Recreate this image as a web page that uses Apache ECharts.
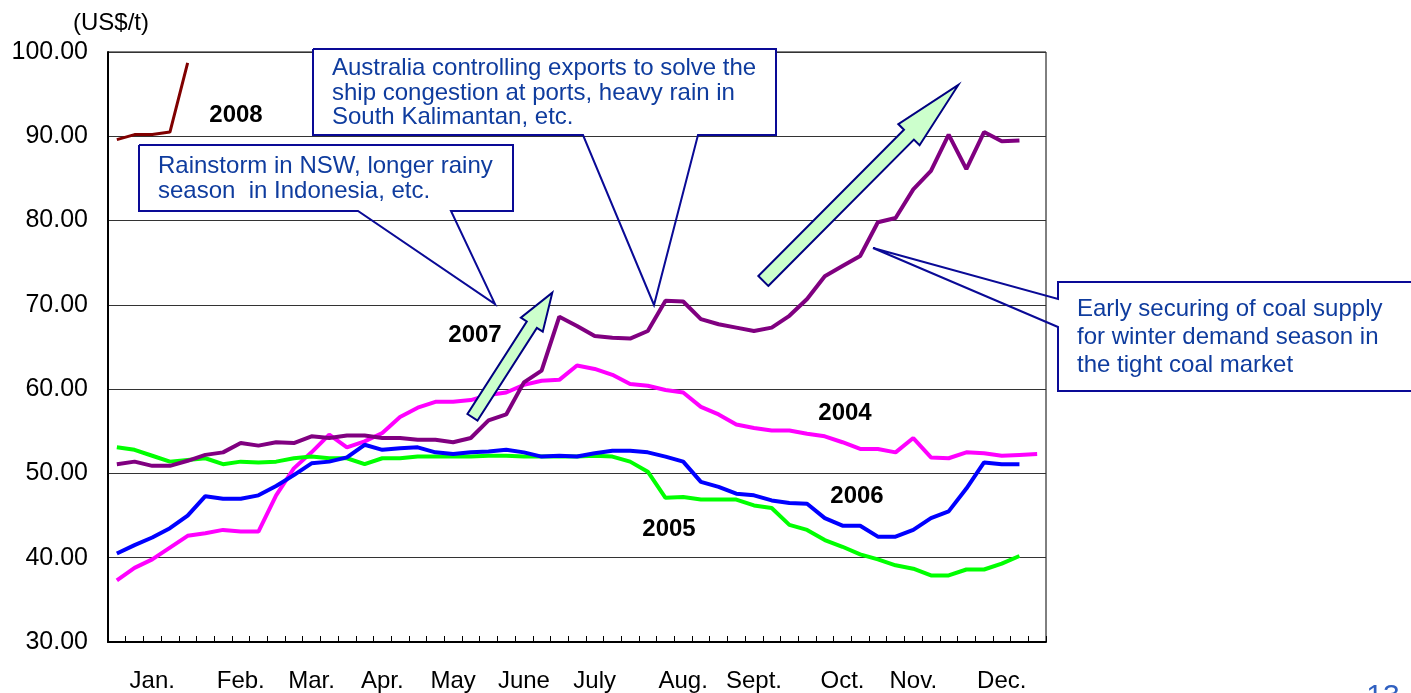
<!DOCTYPE html>
<html>
<head>
<meta charset="utf-8">
<title>Coal price</title>
<script src="https://cdn.jsdelivr.net/npm/echarts@6/dist/echarts.min.js"></script>
<style>
    html, body { margin: 0; padding: 0; background: #fff; }
    #main { width: 1411px; height: 693px; }
</style>
</head>
<body>
<div id="main"></div>
<script>
// 月份标签（放在对应的周上）
var monthNames = ['Jan.', 'Feb.', 'Mar.', 'Apr.', 'May', 'June', 'July', 'Aug.', 'Sept.', 'Oct.', 'Nov.', 'Dec.'];
var monthWeeks = [2, 7, 11, 15, 19, 23, 27, 32, 36, 41, 45, 50];
var weekCount = 53;

// 各年每周价格 (US$/t)
var price2004 = [37.3, 38.8, 39.8, 41.2, 42.6, 42.9, 43.3, 43.1, 43.1, 47.4, 50.6, 52.5, 54.6, 53.1, 53.8, 54.8, 56.7, 57.8, 58.5, 58.5,
    58.7, 59.3, 59.6, 60.5, 61.0, 61.1, 62.8, 62.4, 61.7, 60.6, 60.4, 59.9, 59.6, 57.9, 57.0, 55.8, 55.4, 55.1, 55.1, 54.7,
    54.4, 53.7, 52.9, 52.9, 52.5, 54.2, 51.9, 51.8, 52.5, 52.4, 52.1, 52.2, 52.3];
var price2005 = [53.1, 52.8, 52.1, 51.4, 51.6, 51.8, 51.1, 51.4, 51.3, 51.4, 51.8, 52.0, 51.8, 51.8, 51.1, 51.8, 51.8, 52.0, 52.0, 52.0,
    52.0, 52.1, 52.1, 52.0, 52.0, 52.0, 52.0, 52.1, 52.0, 51.4, 50.2, 47.1, 47.2, 46.9, 46.9, 46.9, 46.2, 45.9, 43.9, 43.3,
    42.1, 41.3, 40.4, 39.8, 39.1, 38.7, 37.9, 37.9, 38.6, 38.6, 39.3, 40.2];
var price2006 = [40.5, 41.5, 42.4, 43.5, 45.0, 47.3, 47.0, 47.0, 47.4, 48.5, 49.8, 51.2, 51.4, 51.9, 53.4, 52.8, 53.0, 53.1, 52.5, 52.3,
    52.5, 52.6, 52.8, 52.5, 52.0, 52.1, 52.0, 52.4, 52.7, 52.7, 52.5, 52.0, 51.4, 49.0, 48.4, 47.6, 47.4, 46.8, 46.5, 46.4,
    44.7, 43.8, 43.8, 42.5, 42.5, 43.3, 44.7, 45.5, 48.2, 51.3, 51.1, 51.1];
var price2007 = [51.1, 51.4, 50.9, 50.9, 51.5, 52.2, 52.5, 53.6, 53.3, 53.7, 53.6, 54.4, 54.2, 54.5, 54.5, 54.2, 54.2, 54.0, 54.0, 53.7,
    54.2, 56.3, 57.0, 60.8, 62.2, 68.6, 67.5, 66.3, 66.1, 66.0, 66.9, 70.5, 70.4, 68.3, 67.7, 67.3, 66.9, 67.3, 68.7, 70.7,
    73.4, 74.6, 75.8, 79.8, 80.3, 83.7, 85.9, 90.2, 86.1, 90.5, 89.4, 89.5];
var price2008 = [89.6, 90.2, 90.2, 90.5, 98.7];

var yearNames = ['2004', '2005', '2006', '2007', '2008'];
var yearColors = ['#FF00FF', '#00FF00', '#0000FF', '#800080', '#800000'];

var fontName = "'Liberation Sans', Arial, sans-serif";
var noteBorder = '#0a0a96';
var noteColor = '#0f3c9e';

myCharts1();

// 块状箭头
function blockArrow(tail, tip, shaftW, headW, headLen) {
    var dx = tip[0] - tail[0], dy = tip[1] - tail[1];
    var len = Math.sqrt(dx * dx + dy * dy);
    var ux = dx / len, uy = dy / len;
    var nx = -uy, ny = ux;
    var bx = tip[0] - ux * headLen, by = tip[1] - uy * headLen;
    return [
        [tail[0] + nx * shaftW / 2, tail[1] + ny * shaftW / 2],
        [bx + nx * shaftW / 2, by + ny * shaftW / 2],
        [bx + nx * headW / 2, by + ny * headW / 2],
        tip,
        [bx - nx * headW / 2, by - ny * headW / 2],
        [bx - nx * shaftW / 2, by - ny * shaftW / 2],
        [tail[0] - nx * shaftW / 2, tail[1] - ny * shaftW / 2]
    ];
}

// 注释文字
function noteText(x, y, text, lh) {
    return {
        type: 'text', x: x, y: y, z: 110,
        style: {
            text: text, fill: noteColor, fontSize: 24, fontFamily: fontName,
            lineHeight: lh, align: 'left', verticalAlign: 'top'
        }
    };
}

// 年份标签
function yearLabel(x, y, text) {
    return {
        type: 'text', x: x, y: y, z: 105,
        style: {
            text: text, fill: '#000', fontSize: 24, fontWeight: 'bold', fontFamily: fontName,
            align: 'center', verticalAlign: 'middle'
        }
    };
}

// echarts图表绘制
function myCharts1() {
    var myChart = echarts.init(document.getElementById('main'));
    var weeks = [];
    for (var i = 0; i < weekCount; i++) {
        weeks.push('W' + (i + 1));
    }
    var series = [price2004, price2005, price2006, price2007, price2008].map(function (d, k) {
        return {
            name: yearNames[k],
            type: 'line',
            data: d,
            symbol: 'none',
            lineStyle: { color: yearColors[k], width: k === 4 ? 3 : 4 },
            itemStyle: { color: yearColors[k] },
            z: 2 + k
        };
    });

    var option = {
        animation: false,
        grid: {
            left: 108, right: 365, top: 52, bottom: 49,
            show: true, borderColor: '#000', borderWidth: 1
        },
        xAxis: {
            type: 'category',
            data: weeks,
            boundaryGap: true,
            axisLine: { lineStyle: { color: '#000', width: 2 } },
            axisTick: { show: true, inside: true, length: 6, interval: 0, lineStyle: { color: '#000' } },
            axisLabel: {
                interval: 0, margin: 27, color: '#000', fontSize: 24, fontFamily: fontName,
                formatter: function (value, index) {
                    var k = monthWeeks.indexOf(index);
                    return k >= 0 ? monthNames[k] : '';
                }
            },
            splitLine: { show: false }
        },
        yAxis: {
            type: 'value',
            min: 30, max: 100, interval: 10,
            name: '(US$/t)',
            nameLocation: 'end',
            nameGap: 17,
            nameTextStyle: { color: '#000', fontSize: 24, fontFamily: fontName, align: 'center', padding: [0, 0, 0, 6] },
            axisLine: { show: true, lineStyle: { color: '#000', width: 2 } },
            axisTick: { show: false },
            axisLabel: {
                margin: 20, color: '#000', fontSize: 25, fontFamily: fontName,
                formatter: function (v) { return v.toFixed(2); }
            },
            splitLine: { lineStyle: { color: '#333', width: 1 } }
        },
        series: series,
        graphic: [
            // Rainstorm 注释
            { type: 'rect', z: 100, shape: { x: 139, y: 145, width: 374, height: 66 }, style: { fill: '#fff' } },
            {
                type: 'polyline', z: 101,
                shape: { points: [[139, 145], [513, 145], [513, 211], [451, 211], [495, 304], [358, 211], [139, 211], [139, 145]] },
                style: { stroke: noteBorder, lineWidth: 2, fill: null }
            },
            noteText(158, 154, 'Rainstorm in NSW, longer rainy\nseason  in Indonesia, etc.', 25),
            // Australia 注释
            { type: 'rect', z: 100, shape: { x: 313, y: 49, width: 463, height: 86 }, style: { fill: '#fff' } },
            {
                type: 'polyline', z: 101,
                shape: { points: [[313, 49], [776, 49], [776, 135], [698, 135], [654, 305], [583, 135], [313, 135], [313, 49]] },
                style: { stroke: noteBorder, lineWidth: 2, fill: null }
            },
            noteText(332, 56, 'Australia controlling exports to solve the\nship congestion at ports, heavy rain in\nSouth Kalimantan, etc.', 24.7),
            // Early securing 注释
            { type: 'rect', z: 100, shape: { x: 1058, y: 282, width: 360, height: 109 }, style: { fill: '#fff' } },
            {
                type: 'polyline', z: 101,
                shape: { points: [[1420, 282], [1058, 282], [1058, 299], [873, 248], [1058, 327], [1058, 391], [1420, 391]] },
                style: { stroke: noteBorder, lineWidth: 2, fill: null }
            },
            noteText(1077, 295, 'Early securing of coal supply\nfor winter demand season in\nthe tight coal market', 28.3),
            // 箭头
            {
                type: 'polygon', z: 102,
                shape: { points: blockArrow([472.5, 417.3], [552.3, 292.7], 12, 26, 38) },
                style: { fill: '#CCFFCC', stroke: '#000080', lineWidth: 2 }
            },
            {
                type: 'polygon', z: 102,
                shape: { points: blockArrow([763.3, 281], [958.3, 85], 14, 30, 70) },
                style: { fill: '#CCFFCC', stroke: '#000080', lineWidth: 2 }
            },
            // 年份标签
            yearLabel(236, 115, '2008'),
            yearLabel(475, 335, '2007'),
            yearLabel(845, 413, '2004'),
            yearLabel(857, 496, '2006'),
            yearLabel(669, 529, '2005'),
            // 页码
            {
                type: 'text', x: 1383, y: 682, z: 110,
                style: { text: '13', fill: '#3060c0', fontSize: 30, fontFamily: fontName, align: 'center', verticalAlign: 'top' }
            }
        ]
    };
    myChart.setOption(option);
}
</script>
</body>
</html>
